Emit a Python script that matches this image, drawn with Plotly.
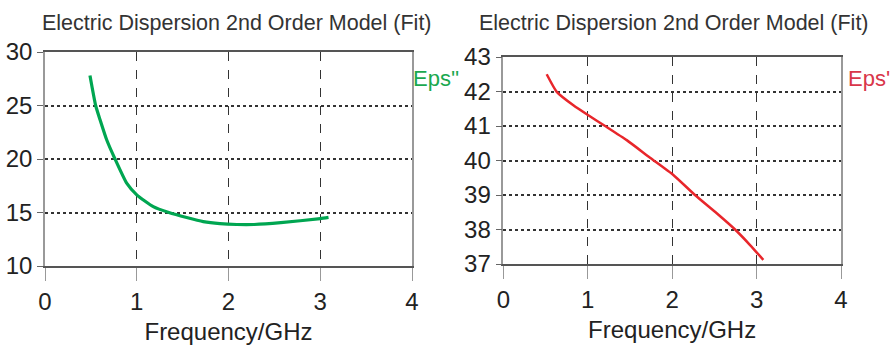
import plotly.graph_objects as go

W, H = 893, 345

# Data
eps2_freq = [0.49, 0.552, 0.6, 0.672, 0.763, 0.89, 1.0, 1.18, 1.35, 1.544, 1.725, 1.907, 2.09, 2.28, 2.57, 3.0, 3.09]
eps2_vals = [27.8, 25.0, 23.67, 21.8, 20.0, 17.74, 16.65, 15.55, 15.0, 14.53, 14.15, 13.96, 13.88, 13.88, 14.05, 14.43, 14.55]

eps1_freq = [0.514, 0.633, 0.83, 1.007, 1.225, 1.462, 1.738, 2.014, 2.27, 2.528, 2.745, 2.923, 3.08]
eps1_vals = [42.5, 41.99, 41.6, 41.31, 40.97, 40.59, 40.08, 39.58, 39.0, 38.47, 38.0, 37.55, 37.12]

x_ticks = [0, 1, 2, 3, 4]
left_y_ticks = [10, 15, 20, 25, 30]
right_y_ticks = [37, 38, 39, 40, 41, 42, 43]

title_text = "Electric Dispersion 2nd Order Model (Fit)"
x_title = "Frequency/GHz"

FONT = "Liberation Sans, Arial, sans-serif"
GREEN = "#00a651"
RED = "#e8262b"

def px(x):
    return x / W

def py(y):
    return 1 - y / H

fig = go.Figure()
fig.add_trace(go.Scatter(x=eps2_freq, y=eps2_vals, mode="lines", xaxis="x", yaxis="y",
                         line=dict(color=GREEN, width=3.2, shape="spline", smoothing=0.5),
                         showlegend=False, hoverinfo="skip"))
fig.add_trace(go.Scatter(x=eps1_freq, y=eps1_vals, mode="lines", xaxis="x2", yaxis="y2",
                         line=dict(color=RED, width=2.5, shape="spline", smoothing=0.5),
                         showlegend=False, hoverinfo="skip"))

common_x = dict(range=[0, 4], tickvals=x_ticks, showline=True, linecolor="#555", linewidth=2,
                mirror=True, ticks="outside", ticklen=13, tickcolor="#999", tickwidth=1.2,
                showgrid=True, gridcolor="#333", griddash="dash", gridwidth=1,
                zeroline=False, automargin=False,
                tickfont=dict(family=FONT, size=24, color="#222"),
                title=dict(text=x_title, font=dict(family=FONT, size=24, color="#222"), standoff=9))
common_y = dict(showline=True, linecolor="#999", linewidth=1.5, mirror=True,
                ticks="outside", ticklen=6, tickcolor="#666", tickwidth=1.2,
                showgrid=True, gridcolor="#333", griddash="dot", gridwidth=1.5,
                zeroline=False, automargin=False,
                tickfont=dict(family=FONT, size=24, color="#222"))

fig.update_layout(
    width=W, height=H, margin=dict(l=0, r=0, t=0, b=0, autoexpand=False),
    paper_bgcolor="white", plot_bgcolor="white",
    xaxis=dict(domain=[px(45), px(412)], anchor="y", **common_x),
    yaxis=dict(domain=[py(266), py(52)], anchor="x", range=[10, 30], tickvals=left_y_ticks, **common_y),
    xaxis2=dict(domain=[px(503.3), px(841)], anchor="y2", **common_x),
    yaxis2=dict(domain=[py(264), py(57)], anchor="x2", range=[37, 43], tickvals=right_y_ticks, **common_y),
    annotations=[
        dict(text=title_text, x=px(236.5), y=py(23), xref="paper", yref="paper",
             xanchor="center", yanchor="middle", showarrow=False,
             font=dict(family=FONT, size=21.5, color="#333")),
        dict(text=title_text, x=px(673.5), y=py(23), xref="paper", yref="paper",
             xanchor="center", yanchor="middle", showarrow=False,
             font=dict(family=FONT, size=21.5, color="#333")),
        dict(text="Eps''", x=px(411), y=py(79), xref="paper", yref="paper",
             xanchor="left", yanchor="middle", showarrow=False,
             font=dict(family=FONT, size=22, color="#1aa84f")),
        dict(text="Eps'", x=px(846), y=py(79), xref="paper", yref="paper",
             xanchor="left", yanchor="middle", showarrow=False,
             font=dict(family=FONT, size=22, color="#d9364a")),
    ],
)

# remove the page's default 8px body margin so the figure fills the window exactly
fig.write_html("out.html", config={"displayModeBar": False},
               post_script="document.body.style.margin='0';document.body.style.overflow='hidden';")
